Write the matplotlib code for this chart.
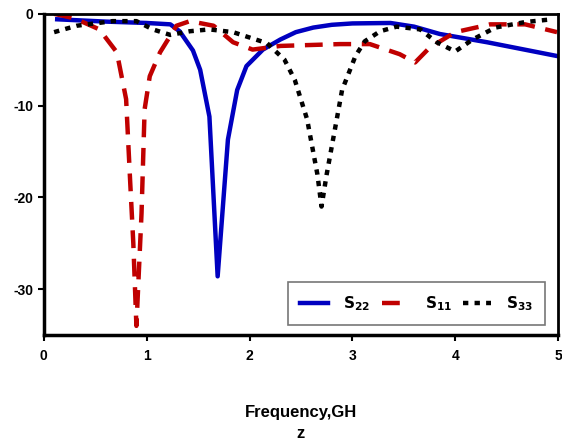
import matplotlib.pyplot as plt

plt.rcParams['font.family'] = ['Liberation Sans', 'DejaVu Sans']
plt.rcParams['axes.unicode_minus'] = False

# S22 (blue, solid)
f22 = [0.13, 0.6, 1.0, 1.23, 1.32, 1.45, 1.52, 1.61, 1.69, 1.79, 1.88, 1.97,
       2.13, 2.3, 2.45, 2.62, 2.8, 3.0, 3.37, 3.6, 3.85, 4.31, 4.99]
s22 = [-0.6, -0.85, -1.0, -1.15, -1.9, -4.0, -6.1, -11.2, -28.6, -13.7, -8.3, -5.7,
       -3.9, -2.8, -2.0, -1.5, -1.2, -1.05, -1.0, -1.4, -2.2, -3.1, -4.6]

# S11 (red, dashed)
f11 = [0.1, 0.3, 0.54, 0.71, 0.8, 0.84, 0.87, 0.9, 0.95, 0.98, 1.03, 1.13, 1.29,
       1.42, 1.65, 1.84, 2.03, 2.3, 2.88, 3.17, 3.46, 3.61, 3.75, 4.0, 4.34, 4.68, 4.99]
s11 = [0.0, -0.5, -1.7, -4.2, -9.3, -18.4, -25.0, -34.0, -21.7, -10.4, -6.8, -4.2, -1.3,
       -0.8, -1.3, -3.1, -3.9, -3.5, -3.3, -3.3, -4.4, -5.3, -3.7, -2.0, -1.15, -1.15, -2.0]

# S33 (black, dotted)
f33 = [0.1, 0.32, 0.67, 0.9, 1.06, 1.23, 1.42, 1.61, 1.84, 2.17, 2.34, 2.44, 2.56,
       2.66, 2.7, 2.75, 2.83, 2.9, 3.03, 3.12, 3.27, 3.43, 3.66, 3.82, 4.0, 4.17,
       4.39, 4.68, 4.94]
s33 = [-2.0, -1.3, -0.8, -0.8, -1.7, -2.3, -1.9, -1.7, -2.0, -3.2, -5.0, -7.2, -11.5,
       -17.5, -21.0, -17.5, -12.6, -8.3, -4.6, -3.0, -1.9, -1.4, -1.7, -3.1, -4.1, -2.8,
       -1.5, -0.9, -0.6]

fig = plt.figure(figsize=(5.62, 4.45), dpi=100)
ax = fig.add_axes([0.078, 0.247, 0.915, 0.722])

ax.plot(f22, s22, color='#0000c0', lw=3.2, label=r'$\mathbf{S}_{\mathbf{22}}$')
ax.plot(f11, s11, color='#c00000', lw=3.2, dashes=(4, 2.4), label=r'$\mathbf{S}_{\mathbf{11}}$')
ax.plot(f33, s33, color='black', lw=3.2, dashes=(1.2, 1.4), label=r'$\mathbf{S}_{\mathbf{33}}$')

ax.set_xlim(0, 5)
ax.set_ylim(-35, 0)
ax.set_xticks([0, 1, 2, 3, 4, 5])
ax.set_yticks([0, -10, -20, -30])
ax.tick_params(direction='out', length=4, width=1.5, labelsize=10)
for lab in ax.get_xticklabels() + ax.get_yticklabels():
    lab.set_fontweight('bold')
ax.tick_params(axis='x', pad=6)

for side in ['left', 'bottom']:
    ax.spines[side].set_linewidth(2.5)
for side in ['top', 'right']:
    ax.spines[side].set_linewidth(2)

ax.set_xlabel('Frequency,GH\nz', fontsize=12, fontweight='bold', labelpad=30,
              linespacing=1.5)

leg = ax.legend(loc='lower right', ncol=3, fancybox=False, edgecolor='#555555',
                fontsize=11, handlelength=1.8, columnspacing=0.75, handletextpad=1.0,
                borderpad=0.8, bbox_to_anchor=(0.99, 0.008))
leg.get_frame().set_linewidth(1.2)

fig.savefig('out.png', dpi=100)
